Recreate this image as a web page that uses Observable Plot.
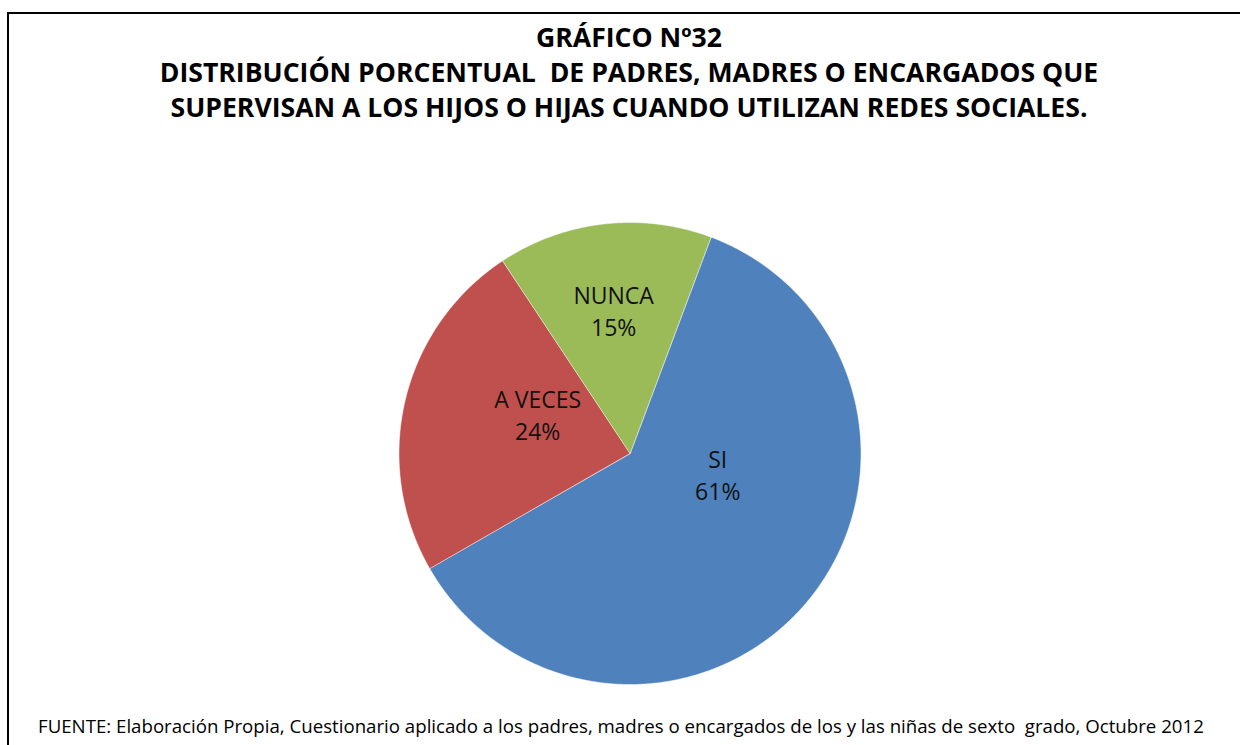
<!DOCTYPE html>
<html><head><meta charset="utf-8">
<script src="https://cdn.jsdelivr.net/npm/d3@7"></script>
<script src="https://cdn.jsdelivr.net/npm/@observablehq/plot@0.6"></script>
<style>
html,body{margin:0;padding:0;background:#fff;}
#wrap{position:relative;width:1240px;height:745px;overflow:hidden;background:#fff;}
#wrap svg{position:absolute;left:0;top:0;}
.bt{position:absolute;left:7px;top:12px;width:1233px;height:2px;background:#000;}
.bl{position:absolute;left:7px;top:12px;width:2px;height:733px;background:#000;}
</style></head><body>
<div id="wrap"></div>
<script>
// ---- data ----
const categories = ["SI", "A VECES", "NUNCA"];
const percents = [61, 24, 15];
const colors = ["#4F81BD", "#C0504D", "#9BBB59"];
const titleLines = [
  "GRÁFICO Nº32",
  "DISTRIBUCIÓN PORCENTUAL  DE PADRES, MADRES O ENCARGADOS QUE",
  "SUPERVISAN A LOS HIJOS O HIJAS CUANDO UTILIZAN REDES SOCIALES."
];
const footerText = "FUENTE: Elaboración Propia, Cuestionario aplicado a los padres, madres o encargados de los y las niñas de sexto  grado, Octubre 2012";

// ---- layout ----
const W = 1240, H = 745;
const cx = 629.5, cy = 453, R = 231;
const startAngle = 20.5; // degrees clockwise from 12 o'clock
// label placement inside each slice: [fraction of the slice's sweep, fraction of radius]
const labelPlace = {"SI": [0.376, 0.39], "A VECES": [0.616, 0.435], "NUNCA": [0.5, 0.625]};

const total = d3.sum(percents);
const rad = d => d * Math.PI / 180;
let acc = 0;
const slices = categories.map((c, i) => {
  const a0 = startAngle + acc / total * 360;
  acc += percents[i];
  const a1 = startAngle + acc / total * 360;
  return {c, p: percents[i], a0, a1};
});
const pts = [];
slices.forEach(s => {
  pts.push({c: s.c, x: 0, y: 0});
  const n = Math.ceil((s.a1 - s.a0) / 0.5);
  for (let k = 0; k <= n; k++) {
    const a = rad(s.a0 + (s.a1 - s.a0) * k / n);
    pts.push({c: s.c, x: Math.sin(a), y: Math.cos(a)});
  }
});
const labels = slices.map(s => {
  const [f, rf] = labelPlace[s.c];
  const a = rad(s.a0 + (s.a1 - s.a0) * f);
  return {x: rf * Math.sin(a), y: rf * Math.cos(a), t: s.c + "\n" + s.p + "%"};
});

const chart = Plot.plot({
  width: W, height: H, margin: 0,
  x: {domain: [-1, 1], range: [cx - R, cx + R], axis: null},
  y: {domain: [-1, 1], range: [cy + R, cy - R], axis: null},
  color: {domain: categories, range: colors},
  style: {background: "transparent", fontFamily: "'Open Sans', sans-serif"},
  marks: [
    Plot.line(pts, {x: "x", y: "y", z: "c", fill: "c", stroke: "#ffffff", strokeWidth: 0.8, strokeOpacity: 0.6, curve: "linear-closed"}),
    Plot.text(labels, {x: "x", y: "y", text: "t", fontSize: 23, lineHeight: 1.39, fill: "#111"})
  ]
});
const wrap = document.getElementById("wrap");
wrap.appendChild(chart);

// ---- title & footer ----
const ov = d3.select(wrap).append("svg").attr("width", W).attr("height", H);
function addText(str, x, y, anchor, weight) {
  return ov.append("text").attr("x", x).attr("y", y).attr("text-anchor", anchor)
    .style("font-family", "'Open Sans', sans-serif").style("font-weight", weight)
    .style("white-space", "pre").attr("fill", "#000").text(str);
}
const titleY = [47, 82, 117];
const tNodes = titleLines.map((s, i) => addText(s, 629, titleY[i], "middle", 700).style("font-size", "22px"));
const tLen = tNodes[1].node().getComputedTextLength();
const tSize = 22 * 939 / tLen;
tNodes.forEach(n => n.style("font-size", tSize + "px"));

const f = addText(footerText, 38, 733, "start", 400).style("font-size", "16px");
const fLen = f.node().getComputedTextLength();
f.style("font-size", (16 * 1167 / fLen) + "px");

// border lines
const bt = document.createElement("div"); bt.className = "bt"; wrap.appendChild(bt);
const bl = document.createElement("div"); bl.className = "bl"; wrap.appendChild(bl);
</script>
</body></html>
